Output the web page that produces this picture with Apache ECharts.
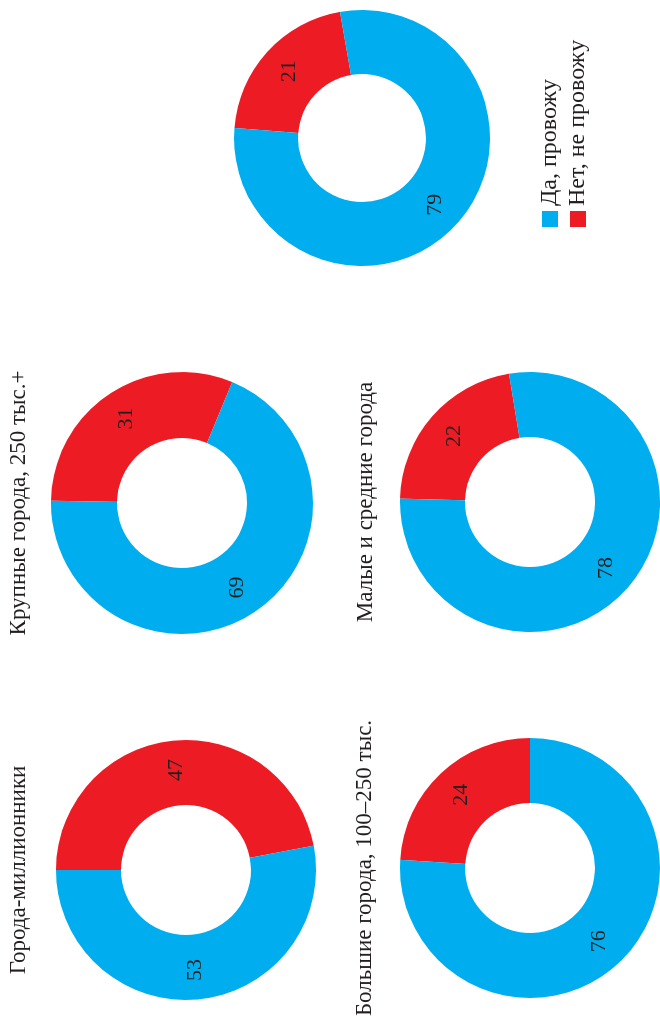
<!DOCTYPE html>
<html>
<head>
<meta charset="utf-8">
<script src="https://cdn.jsdelivr.net/npm/echarts@6/dist/echarts.min.js"></script>
<style>
  html, body { margin: 0; padding: 0; background: #fff; overflow: hidden; }
  #chart {
    position: absolute;
    left: 0;
    top: 0;
    width: 1025px;
    height: 660px;
    transform-origin: 0 0;
    transform: translateY(1025px) rotate(-90deg);
  }
</style>
</head>
<body>
<div id="chart"></div>
<script>
const answers = ['Да, провожу', 'Нет, не провожу']
const groups = ['Города-миллионники', 'Крупные города, 250 тыс.+', 'Большие города, 100–250 тыс.', 'Малые и средние города', '']
const yesValues = [53, 69, 76, 78, 79]
const noValues = [47, 31, 24, 22, 21]

// donut placement (unrotated frame, page is turned 90deg afterwards)
const layout = [
  { center: [155, 186], radius: [65, 130], startAngle: 90, titleTop: 7 },
  { center: [522, 182], radius: [65, 131], startAngle: 89, titleTop: 7 },
  { center: [157, 530], radius: [65, 130], startAngle: 86.4, titleTop: 353 },
  { center: [523, 530], radius: [65, 130], startAngle: 88.5, titleTop: 354 },
  { center: [887, 362], radius: [64, 128], startAngle: 85.5, titleTop: 0 }
]

const font = 'Liberation Serif, Times New Roman, serif'
const textColor = '#231f20'
const blue = '#00aeef'
const red = '#ed1c24'

const chart = echarts.init(document.getElementById('chart'))

const titles = []
groups.forEach((g, i) => {
  if (!g) return
  titles.push({
    text: g,
    left: layout[i].center[0],
    top: layout[i].titleTop,
    padding: 0,
    textAlign: 'center',
    textStyle: { fontFamily: font, fontSize: 23, fontWeight: 'normal', color: textColor }
  })
})

chart.setOption({
  animation: false,
  color: [red, blue],
  title: titles,
  legend: {
    data: answers,
    orient: 'vertical',
    left: 798,
    top: 538,
    padding: 0,
    itemWidth: 16,
    itemHeight: 16,
    itemGap: 4,
    icon: 'rect',
    textStyle: { fontFamily: font, fontSize: 24, color: textColor }
  },
  series: groups.map((g, i) => ({
    type: 'pie',
    name: g,
    center: layout[i].center,
    radius: layout[i].radius,
    startAngle: layout[i].startAngle,
    clockwise: true,
    silent: true,
    label: {
      show: true,
      position: 'inside',
      formatter: '{c}',
      fontFamily: font,
      fontSize: 22,
      color: textColor
    },
    labelLine: { show: false },
    emphasis: { disabled: true },
    data: [
      { name: answers[1], value: noValues[i], itemStyle: { color: red } },
      { name: answers[0], value: yesValues[i], itemStyle: { color: blue } }
    ]
  }))
})
</script>
</body>
</html>
